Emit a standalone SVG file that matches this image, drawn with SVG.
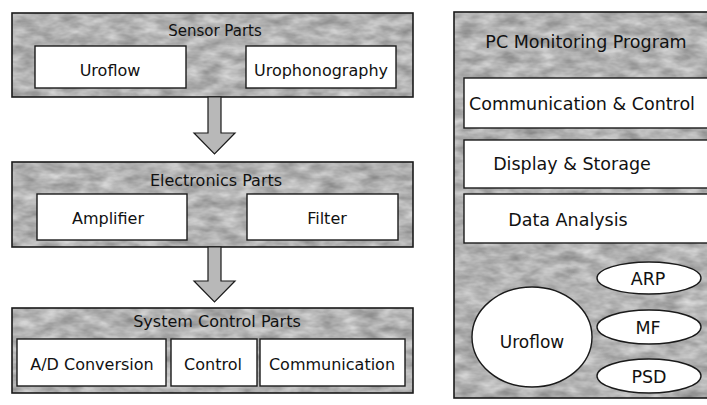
<svg xmlns="http://www.w3.org/2000/svg" width="707" height="405" viewBox="0 0 707 405">
  <style>
    .panel { fill: #b0b0b0; }
    .grain { filter: url(#mottle); }
    .edge { fill: none; stroke: #1a1a1a; stroke-width: 1.6; }
    .box { fill: #ffffff; stroke: #1a1a1a; stroke-width: 1.4; }
    .oval { fill: #ffffff; stroke: #1a1a1a; stroke-width: 1.4; }
    .arrow { fill: #b8b8b8; stroke: #1a1a1a; stroke-width: 1.2; stroke-linejoin: miter; }
    text { font-family: "DejaVu Sans", "Liberation Sans", sans-serif; fill: #111; text-anchor: middle; dominant-baseline: central; }
    .title { font-size: 16px; }
    .label { font-size: 16px; }
    .big { font-size: 17.5px; }
  </style>
  <defs>
    <filter id="mottle" x="0" y="0" width="100%" height="100%" color-interpolation-filters="sRGB">
      <feTurbulence type="fractalNoise" baseFrequency="0.05 0.11" numOctaves="3" seed="7" result="noise"/>
      <feColorMatrix in="noise" type="matrix" values="0.4 0 0 0 0.5  0.4 0 0 0 0.5  0.4 0 0 0 0.5  0 0 0 0 1" result="gray"/>
      <feComposite in="gray" in2="SourceAlpha" operator="in"/>
    </filter>
  </defs>

  <rect width="707" height="405" fill="#ffffff"/>

  <!-- Sensor parts block -->
  <g id="sensor-parts">
    <rect class="panel grain" x="12" y="13" width="401" height="84"/>
    <rect class="edge" x="12" y="13" width="401" height="84"/>
    <text class="title" x="215" y="31" style="font-size:15px">Sensor Parts</text>
    <rect class="box" x="35" y="46" width="151" height="42"/>
    <text class="label" x="110" y="70">Uroflow</text>
    <rect class="box" x="246" y="46" width="150" height="42"/>
    <text class="label" x="321" y="70">Urophonography</text>
  </g>

  <!-- Electronics parts block -->
  <g id="electronics-parts">
    <rect class="panel grain" x="12" y="162" width="401" height="85"/>
    <rect class="edge" x="12" y="162" width="401" height="85"/>
    <text class="title" x="216" y="180">Electronics Parts</text>
    <rect class="box" x="37" y="194" width="150" height="46"/>
    <text class="label" x="108" y="218">Amplifier</text>
    <rect class="box" x="247" y="194" width="151" height="46"/>
    <text class="label" x="327" y="218">Filter</text>
  </g>

  <!-- System control parts block -->
  <g id="system-control-parts">
    <rect class="panel grain" x="12" y="308" width="401" height="85"/>
    <rect class="edge" x="12" y="308" width="401" height="85"/>
    <text class="title" x="217" y="321">System Control Parts</text>
    <rect class="box" x="17" y="339" width="149" height="47"/>
    <text class="label" x="92" y="364">A/D Conversion</text>
    <rect class="box" x="171" y="339" width="86" height="47"/>
    <text class="label" x="213" y="364">Control</text>
    <rect class="box" x="260" y="339" width="145" height="47"/>
    <text class="label" x="332" y="364">Communication</text>
  </g>

  <!-- PC monitoring program panel -->
  <g id="pc-monitoring-program">
    <rect class="panel grain" x="454" y="12" width="270" height="386"/>
    <rect class="edge" x="454" y="12" width="270" height="386"/>
    <text class="big" x="586" y="42">PC Monitoring Program</text>
  </g>

  <g id="communication-control">
    <rect class="box" x="464" y="78" width="260" height="50"/>
    <text class="big" x="582" y="104">Communication &amp; Control</text>
  </g>

  <g id="display-storage">
    <rect class="box" x="464" y="140" width="260" height="48"/>
    <text class="big" x="572" y="164">Display &amp; Storage</text>
  </g>

  <g id="data-analysis">
    <rect class="box" x="464" y="194" width="260" height="49"/>
    <text class="big" x="568" y="220">Data Analysis</text>
  </g>

  <g id="uroflow-analysis">
    <ellipse class="oval" cx="532" cy="337" rx="60" ry="50"/>
    <text class="big" x="532" y="342" style="font-size:17px">Uroflow</text>
  </g>

  <g id="arp">
    <ellipse class="oval" cx="649" cy="278" rx="52" ry="16"/>
    <text class="big" x="648" y="279">ARP</text>
  </g>

  <g id="mf">
    <ellipse class="oval" cx="649" cy="327" rx="52" ry="17"/>
    <text class="big" x="648" y="328">MF</text>
  </g>

  <g id="psd">
    <ellipse class="oval" cx="649" cy="376" rx="52" ry="17"/>
    <text class="big" x="649" y="377">PSD</text>
  </g>

  <!-- Block arrows between the stages -->
  <g id="connectors">
    <path class="arrow" d="M208,97 L221,97 L221,133 L235,133 L214.5,154 L194,133 L208,133 Z"/>
    <path class="arrow" d="M208,247 L221,247 L221,281 L235,281 L214.5,302 L194,281 L208,281 Z"/>
  </g>
</svg>
